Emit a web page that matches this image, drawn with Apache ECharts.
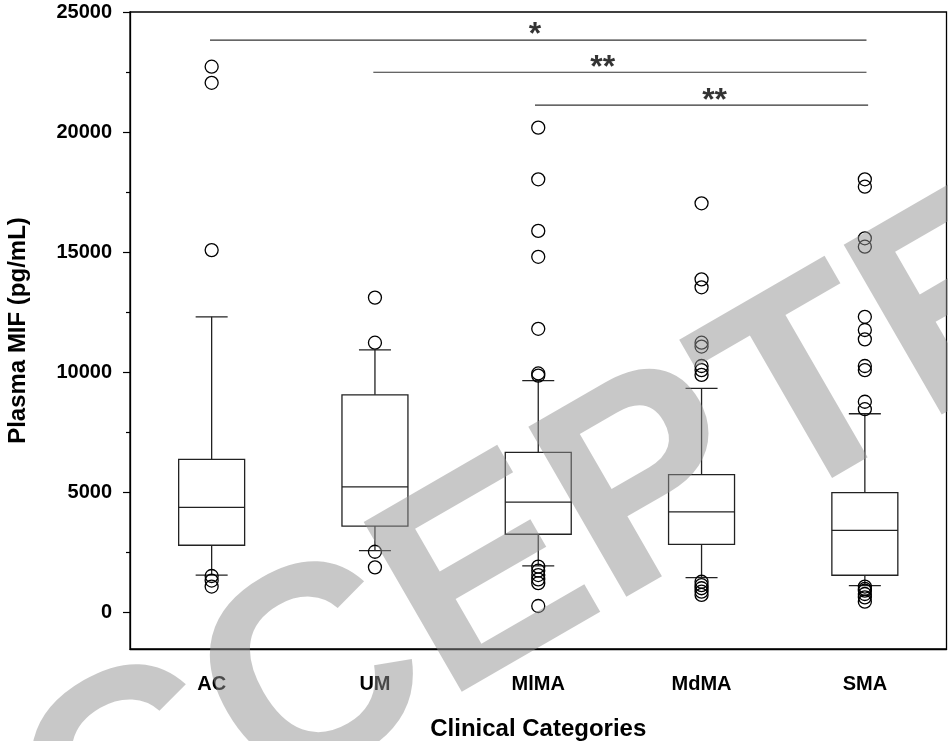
<!DOCTYPE html>
<html>
<head>
<meta charset="utf-8">
<title>Plasma MIF by clinical category</title>
<script src="https://cdn.jsdelivr.net/npm/echarts@6.0.0/dist/echarts.min.js"></script>
<style>
  html, body { margin: 0; padding: 0; background: #fff; }
  #chart { width: 948px; height: 741px; }
</style>
</head>
<body>
<div id="chart"></div>
<script>
// Clinical groups on the x axis
const categories = ['AC', 'UM', 'MlMA', 'MdMA', 'SMA'];

// Box statistics per group (pg/mL)
const whiskerLow  = [1540, 2560, 1920, 1430, 1100];
const quartile1   = [2780, 3580, 3240, 2820, 1530];
const median      = [4360, 5210, 4580, 4170, 3400];
const quartile3   = [6360, 9050, 6650, 5720, 4970];
const whiskerHigh = [12300, 10920, 9640, 9320, 8260];

// Values beyond the whiskers, per group
const outliersAC   = [22720, 22050, 15080, 1500, 1310, 1060];
const outliersUM   = [13100, 11220, 2510, 1860];
const outliersMlMA = [20180, 18030, 15880, 14800, 11800, 9940, 9850, 1890, 1720, 1540, 1360, 1200, 250];
const outliersMdMA = [17030, 13860, 13530, 11220, 11060, 10250, 10080, 9880, 1260, 1120, 990, 850, 710];
const outliersSMA  = [18030, 17720, 15570, 15220, 12300, 11750, 11360, 10250, 10080, 8760, 8450, 1060, 960, 890, 750, 610, 430];

// Y axis ticks
const yMajorTicks = [0, 5000, 10000, 15000, 20000, 25000];
const yMinorTicks = [2500, 7500, 12500, 17500, 22500];

// Pairwise comparisons: bar start, bar end, bar height, star position, label
const sigFrom  = [-0.01, 0.99, 1.98];
const sigTo    = [4.01, 4.01, 4.02];
const sigLevel = [23830, 22490, 21120];
const sigStarX = [1.98, 2.395, 3.08];
const sigStarY = [24040, 22650, 21270];
const sigText  = ['*', '**', '**'];

const outlierGroups = [outliersAC, outliersUM, outliersMlMA, outliersMdMA, outliersSMA];

const boxData = categories.map((c, i) => [i, whiskerLow[i], quartile1[i], median[i], quartile3[i], whiskerHigh[i]]);
const outlierData = [];
outlierGroups.forEach((vals, i) => vals.forEach(v => outlierData.push([i, v])));

const sigSeries = sigFrom.map((f, i) => ({
  type: 'line',
  xAxisIndex: 1,
  yAxisIndex: 0,
  data: [[f, sigLevel[i]], [sigTo[i], sigLevel[i]]],
  symbol: 'none',
  silent: true,
  lineStyle: { color: '#333', width: 1.2 },
  z: 3
}));

const FONT = '"Liberation Sans", Arial, Helvetica, sans-serif';
const ink = '#000';

const chart = echarts.init(document.getElementById('chart'), null, { renderer: 'canvas' });

chart.setOption({
  animation: false,
  backgroundColor: '#fff',
  grid: {
    left: 130, top: 12, right: 1.5, bottom: 92,
    outerBoundsMode: 'none',
    containLabel: false,
    show: true, borderColor: ink, borderWidth: 1.3, backgroundColor: 'transparent'
  },
  xAxis: [{
    type: 'category',
    data: categories,
    boundaryGap: true,
    name: 'Clinical Categories',
    nameLocation: 'middle',
    nameGap: 68,
    nameTextStyle: { fontFamily: FONT, fontWeight: 'bold', fontSize: 24, color: ink },
    axisLine: { onZero: false, lineStyle: { color: ink, width: 1.3 } },
    axisTick: { alignWithLabel: true, length: 7, lineStyle: { color: ink, width: 1.2 } },
    axisLabel: { fontFamily: FONT, fontWeight: 'bold', fontSize: 20, color: ink, margin: 25 },
    splitLine: { show: false }
  }, {
    type: 'value',
    min: -0.5, max: 4.5,
    show: false,
    axisLine: { onZero: false }
  }],
  yAxis: [{
    type: 'value',
    min: -1542, max: 25000,
    name: 'Plasma MIF (pg/mL)',
    nameLocation: 'middle',
    nameGap: 100,
    nameTextStyle: { fontFamily: FONT, fontWeight: 'bold', fontSize: 24, color: ink },
    axisLine: { show: true, onZero: false, lineStyle: { color: ink, width: 1.3 } },
    axisTick: { show: true, customValues: yMajorTicks, length: 7, lineStyle: { color: ink, width: 1.2 } },
    axisLabel: {
      customValues: yMajorTicks,
      formatter: v => String(v),
      fontFamily: FONT, fontWeight: 'bold', fontSize: 20, color: ink, margin: 18
    },
    splitLine: { show: false }
  }, {
    type: 'value',
    min: -1542, max: 25000,
    position: 'left',
    axisLine: { show: false, onZero: false },
    axisTick: { show: true, customValues: yMinorTicks, length: 4, lineStyle: { color: ink, width: 1.2 } },
    axisLabel: { show: false },
    splitLine: { show: false }
  }],
  series: [{
    type: 'custom',
    name: 'boxes',
    xAxisIndex: 0,
    yAxisIndex: 0,
    data: boxData,
    encode: { x: 0, y: [1, 2, 3, 4, 5] },
    z: 2,
    renderItem: function (params, api) {
      const idx = api.value(0);
      const lo = api.coord([idx, api.value(1)]);
      const b1 = api.coord([idx, api.value(2)]);
      const md = api.coord([idx, api.value(3)]);
      const b3 = api.coord([idx, api.value(4)]);
      const hi = api.coord([idx, api.value(5)]);
      const band = api.size([1, 0])[0];
      const hw = band * 0.202;
      const cw = band * 0.098;
      const x = lo[0];
      const st = { stroke: '#222', lineWidth: 1.3, fill: 'none' };
      return {
        type: 'group',
        children: [
          { type: 'line', shape: { x1: x, y1: hi[1], x2: x, y2: b3[1] }, style: st },
          { type: 'line', shape: { x1: x, y1: b1[1], x2: x, y2: lo[1] }, style: st },
          { type: 'line', shape: { x1: x - cw, y1: hi[1], x2: x + cw, y2: hi[1] }, style: st },
          { type: 'line', shape: { x1: x - cw, y1: lo[1], x2: x + cw, y2: lo[1] }, style: st },
          { type: 'rect', shape: { x: x - hw, y: b3[1], width: 2 * hw, height: b1[1] - b3[1] }, style: st },
          { type: 'line', shape: { x1: x - hw, y1: md[1], x2: x + hw, y2: md[1] }, style: st }
        ]
      };
    }
  }, {
    type: 'scatter',
    name: 'outliers',
    xAxisIndex: 0,
    yAxisIndex: 0,
    data: outlierData,
    symbol: 'circle',
    symbolSize: 13,
    itemStyle: { color: 'rgba(0,0,0,0)', borderColor: '#000', borderWidth: 1.3, opacity: 1 },
    z: 4
  }, {
    type: 'scatter',
    name: 'significance',
    xAxisIndex: 1,
    yAxisIndex: 0,
    data: sigStarX.map((x, i) => ({ value: [x, sigStarY[i]], name: sigText[i] })),
    symbolSize: 0,
    silent: true,
    label: {
      show: true,
      position: 'inside',
      formatter: p => p.name,
      fontFamily: FONT,
      fontWeight: 'bold',
      fontSize: 32,
      color: '#000',
      verticalAlign: 'middle',
      align: 'center'
    },
    z: 5
  }].concat(sigSeries),
  graphic: [{
    type: 'text',
    silent: true,
    z: 100,
    x: 550,
    y: 550,
    rotation: Math.PI / 6,
    style: {
      text: 'ACCEPTED',
      font: 'bold 285px ' + FONT,
      fill: 'rgba(145,145,145,0.5)',
      align: 'center',
      verticalAlign: 'middle',
      textAlign: 'center',
      textVerticalAlign: 'middle'
    }
  }]
});
</script>
</body>
</html>
